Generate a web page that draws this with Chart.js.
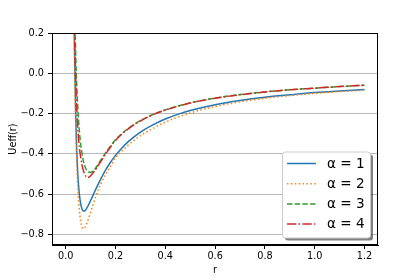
<!DOCTYPE html>
<html>
<head>
<meta charset="utf-8">
<script src="https://cdn.jsdelivr.net/npm/chart.js@4/dist/chart.umd.min.js"></script>
<style>
html,body{margin:0;padding:0;background:#fff;}
#wrap{position:relative;width:420px;height:280px;}
canvas{display:block;}
</style>
</head>
<body>
<div id="wrap"><canvas id="c" width="420" height="280"></canvas></div>
<script>
// ---- data ----
const rValues = [0.030,0.035,0.040,0.045,0.050,0.055,0.060,0.065,0.070,0.075,0.080,0.085,0.090,0.095,0.100,0.110,0.120,0.140,0.160,0.180,0.200,0.225,0.250,0.300,0.350,0.400,0.450,0.500,0.600,0.700,0.800,0.900,1.000,1.100,1.200];
const alpha1 = [0.756,0.147,-0.200,-0.405,-0.528,-0.602,-0.647,-0.672,-0.684,-0.684,-0.679,-0.669,-0.658,-0.645,-0.632,-0.605,-0.578,-0.527,-0.481,-0.442,-0.408,-0.372,-0.341,-0.292,-0.256,-0.227,-0.204,-0.185,-0.156,-0.135,-0.119,-0.107,-0.096,-0.088,-0.081];
const alpha2 = [0.900,0.120,-0.250,-0.470,-0.600,-0.680,-0.735,-0.762,-0.772,-0.770,-0.760,-0.745,-0.728,-0.709,-0.690,-0.652,-0.615,-0.553,-0.503,-0.462,-0.420,-0.388,-0.358,-0.310,-0.274,-0.243,-0.218,-0.197,-0.165,-0.142,-0.124,-0.111,-0.100,-0.091,-0.084];
const alpha3 = [1.300,0.450,0.100,-0.080,-0.200,-0.290,-0.350,-0.395,-0.430,-0.455,-0.472,-0.483,-0.489,-0.492,-0.492,-0.486,-0.472,-0.433,-0.396,-0.361,-0.330,-0.300,-0.275,-0.235,-0.205,-0.182,-0.163,-0.147,-0.123,-0.106,-0.093,-0.082,-0.074,-0.066,-0.060];
const alpha4 = [1.000,0.250,-0.020,-0.190,-0.300,-0.370,-0.415,-0.452,-0.480,-0.498,-0.510,-0.517,-0.518,-0.515,-0.509,-0.494,-0.478,-0.440,-0.402,-0.366,-0.334,-0.303,-0.277,-0.237,-0.206,-0.183,-0.164,-0.148,-0.124,-0.107,-0.093,-0.082,-0.074,-0.066,-0.059];
const seriesLabels = ['α = 1','α = 2','α = 3','α = 4'];
const xTicks = [0.0,0.2,0.4,0.6,0.8,1.0,1.2];
const yTicks = [0.2,0.0,-0.2,-0.4,-0.6,-0.8];

// ---- styling ----
const FONT = '"DejaVu Sans", "Liberation Sans", sans-serif';
const colors = ['#1f77b4','#ff7f0e','#2ca02c','#d62728'];
const dashes = [[], [1.5,2.4], [5.4,2.3], [9.3,2.3,1.5,2.3]];
const seriesData = [alpha1, alpha2, alpha3, alpha4];

function fmt(v){
  const s = (Math.abs(v) < 1e-9 ? 0 : v).toFixed(1);
  return s.replace('-', '\u2212');
}

const datasets = seriesData.map((arr, i) => ({
  label: seriesLabels[i],
  data: rValues.map((r, j) => ({x: r, y: arr[j]})),
  borderColor: colors[i],
  backgroundColor: colors[i],
  borderWidth: 1.5,
  borderDash: dashes[i],
  pointRadius: 0,
  fill: false,
  cubicInterpolationMode: 'monotone',
  order: 4 - i
}));

function roundRect(ctx, x, y, w, h, r){
  ctx.beginPath();
  ctx.moveTo(x + r, y);
  ctx.lineTo(x + w - r, y);
  ctx.arcTo(x + w, y, x + w, y + r, r);
  ctx.lineTo(x + w, y + h - r);
  ctx.arcTo(x + w, y + h, x + w - r, y + h, r);
  ctx.lineTo(x + r, y + h);
  ctx.arcTo(x, y + h, x, y + h - r, r);
  ctx.lineTo(x, y + r);
  ctx.arcTo(x, y, x + r, y, r);
  ctx.closePath();
}

const framePlugin = {
  id: 'mplFrame',
  afterDraw(chart){
    const ctx = chart.ctx;
    const a = chart.chartArea;
    ctx.save();
    ctx.strokeStyle = '#000';
    ctx.lineWidth = 1;
    ctx.setLineDash([]);
    ctx.strokeRect(Math.round(a.left) + 0.5, Math.round(a.top) + 0.5, Math.round(a.right - a.left) - 1, Math.round(a.bottom - a.top) - 1);
    // legend
    const x0 = 282.5, y0 = 152, w = 88, h = 86, rad = 3;
    roundRect(ctx, x0 + 2.5, y0 + 2.5, w, h, rad);
    ctx.fillStyle = 'rgba(0,0,0,0.5)';
    ctx.fill();
    roundRect(ctx, x0, y0, w, h, rad);
    ctx.fillStyle = '#ffffff';
    ctx.fill();
    ctx.strokeStyle = '#cccccc';
    ctx.lineWidth = 1;
    ctx.stroke();
    chart.data.datasets.forEach((ds, i) => {
      const y = 163.5 + i * 20.2;
      ctx.beginPath();
      ctx.setLineDash(ds.borderDash || []);
      ctx.strokeStyle = ds.borderColor;
      ctx.lineWidth = ds.borderWidth;
      ctx.moveTo(287, y);
      ctx.lineTo(316, y);
      ctx.stroke();
      ctx.setLineDash([]);
      ctx.fillStyle = '#000';
      ctx.font = '13.6px ' + FONT;
      ctx.textBaseline = 'middle';
      ctx.textAlign = 'left';
      ctx.fillText(ds.label, 327, y + 0.5);
    });
    ctx.restore();
  }
};

new Chart(document.getElementById('c'), {
  type: 'line',
  data: { datasets },
  plugins: [framePlugin],
  options: {
    responsive: false,
    animation: false,
    devicePixelRatio: 1,
    events: [],
    layout: { padding: { left: 0, right: 42, top: 33, bottom: 0 } },
    plugins: { legend: { display: false }, tooltip: { enabled: false } },
    scales: {
      x: {
        type: 'linear',
        min: -0.055,
        max: 1.254,
        afterFit: s => { s.height = 35; },
        afterBuildTicks: s => { s.ticks = xTicks.map(v => ({value: v})); },
        grid: { drawOnChartArea: false, drawTicks: true, tickLength: 4, tickColor: '#000' },
        border: { display: true, color: '#000', width: 1 },
        ticks: { color: '#000', padding: 2, maxRotation: 0, autoSkip: false, font: { family: FONT, size: 9.7 }, callback: v => fmt(v) },
        title: { display: true, text: 'r', color: '#000', font: { family: FONT, size: 9.7 }, padding: { top: 0, bottom: 4 } }
      },
      y: {
        type: 'linear',
        min: -0.853,
        max: 0.2,
        afterFit: s => { s.width = 52; },
        afterBuildTicks: s => { s.ticks = yTicks.map(v => ({value: v})); },
        grid: { drawOnChartArea: true, color: '#b8b8b8', lineWidth: 1, drawTicks: true, tickLength: 4, tickColor: '#000' },
        border: { display: true, color: '#000', width: 1 },
        ticks: { color: '#000', padding: 4, autoSkip: false, font: { family: FONT, size: 9.7 }, callback: v => fmt(v) },
        title: { display: true, text: 'Ueff(r)', color: '#000', font: { family: FONT, size: 9.7 }, padding: { top: 8, bottom: 0 } }
      }
    }
  }
});
</script>
</body>
</html>
